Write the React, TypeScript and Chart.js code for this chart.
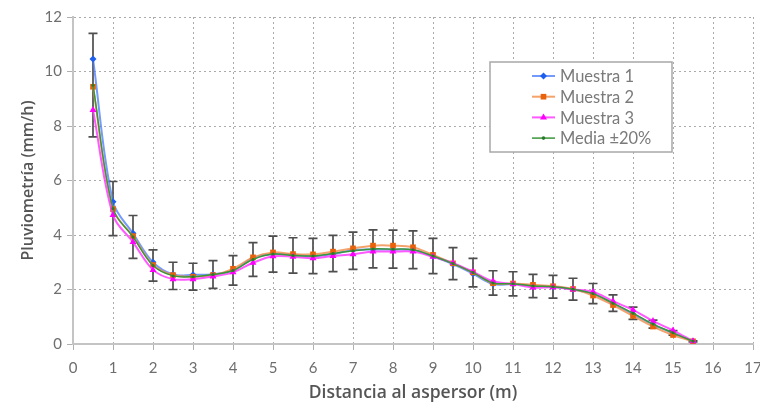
import React, { useEffect, useRef } from 'react';
import { Chart, registerables } from 'chart.js';

Chart.register(...registerables);

// ---------------- Data ----------------
const distances = [0.5, 1, 1.5, 2, 2.5, 3, 3.5, 4, 4.5, 5, 5.5, 6, 6.5, 7, 7.5, 8, 8.5, 9, 9.5, 10, 10.5, 11, 11.5, 12, 12.5, 13, 13.5, 14, 14.5, 15, 15.5];

const muestra1 = [10.46, 5.22, 4.06, 3.0, 2.55, 2.54, 2.56, 2.7, 3.15, 3.3, 3.28, 3.22, 3.3, 3.45, 3.47, 3.46, 3.45, 3.22, 2.93, 2.58, 2.2, 2.2, 2.13, 2.1, 2.0, 1.84, 1.48, 1.1, 0.72, 0.4, 0.1];
const muestra2 = [9.44, 4.95, 3.96, 2.9, 2.53, 2.47, 2.53, 2.76, 3.18, 3.36, 3.3, 3.29, 3.39, 3.51, 3.61, 3.61, 3.55, 3.27, 2.96, 2.63, 2.23, 2.22, 2.17, 2.12, 2.02, 1.78, 1.43, 1.03, 0.64, 0.33, 0.1];
const muestra3 = [8.59, 4.73, 3.74, 2.72, 2.38, 2.38, 2.48, 2.63, 2.98, 3.22, 3.2, 3.15, 3.23, 3.29, 3.39, 3.39, 3.39, 3.2, 2.97, 2.65, 2.3, 2.2, 2.07, 2.08, 2.0, 1.92, 1.57, 1.25, 0.84, 0.5, 0.1];
const media = [9.5, 4.97, 3.93, 2.88, 2.5, 2.47, 2.55, 2.7, 3.1, 3.3, 3.25, 3.23, 3.32, 3.42, 3.49, 3.48, 3.46, 3.23, 2.95, 2.62, 2.24, 2.21, 2.13, 2.1, 2.01, 1.85, 1.5, 1.13, 0.73, 0.41, 0.1];

// Error band of the mean, as stated in the legend (±20 %)
const errorFraction = 0.2;

const seriesLabels = ['Muestra 1', 'Muestra 2', 'Muestra 3', 'Media ±20%'];
const xTitle = 'Distancia al aspersor (m)';
const yTitle = 'Pluviometría (mm/h)';
const xMin = 0;
const xMax = 17;
const yMin = 0;
const yMax = 12;

// ---------------- Styles ----------------
const FONT = 'Lato, "Open Sans", sans-serif';
const TITLE_FONT = '"Open Sans", Lato, sans-serif';
const styles = [
  { line: 'rgba(70,120,250,0.75)', point: '#1f5ff0', shape: 'rectRot', radius: 3.5, width: 2 },
  { line: 'rgba(240,140,70,0.8)', point: '#e8620c', shape: 'rect', radius: 4, width: 2 },
  { line: 'rgba(255,60,255,0.85)', point: '#ff00ff', shape: 'triangle', radius: 4, width: 2 },
  { line: '#3a963a', point: '#2a7a2a', shape: 'circle', radius: 1.5, width: 1.5 },
];
const seriesValues = [muestra1, muestra2, muestra3, media];

function drawMarker(ctx: CanvasRenderingContext2D, shape: string, x: number, y: number, r: number, color: string) {
  ctx.fillStyle = color;
  ctx.beginPath();
  if (shape === 'rectRot') {
    ctx.moveTo(x, y - r);
    ctx.lineTo(x + r, y);
    ctx.lineTo(x, y + r);
    ctx.lineTo(x - r, y);
    ctx.closePath();
  } else if (shape === 'rect') {
    const s = r * Math.SQRT1_2;
    ctx.rect(x - s, y - s, 2 * s, 2 * s);
  } else if (shape === 'triangle') {
    ctx.moveTo(x, y - r);
    ctx.lineTo(x + r * 0.87, y + r * 0.5);
    ctx.lineTo(x - r * 0.87, y + r * 0.5);
    ctx.closePath();
  } else {
    ctx.arc(x, y, r, 0, Math.PI * 2);
  }
  ctx.fill();
}

const errorBarPlugin = {
  id: 'errorBars',
  beforeDatasetsDraw(chart: any) {
    const { ctx, scales } = chart;
    const xs = scales.x;
    const ys = scales.y;
    ctx.save();
    ctx.strokeStyle = '#4e4e4e';
    ctx.lineWidth = 1.7;
    const cap = 4.5;
    distances.forEach((d, i) => {
      const m = media[i];
      const px = xs.getPixelForValue(d);
      const top = ys.getPixelForValue(m * (1 + errorFraction));
      const bot = ys.getPixelForValue(m * (1 - errorFraction));
      ctx.beginPath();
      ctx.moveTo(px, top);
      ctx.lineTo(px, bot);
      ctx.moveTo(px - cap, top);
      ctx.lineTo(px + cap, top);
      ctx.moveTo(px - cap, bot);
      ctx.lineTo(px + cap, bot);
      ctx.stroke();
    });
    ctx.restore();
  },
};

const legendPlugin = {
  id: 'boxLegend',
  afterDraw(chart: any) {
    const { ctx, chartArea } = chart;
    const left = chartArea.left + 417;
    const top = chartArea.top + 45;
    const w = 182;
    const h = 90;
    ctx.save();
    ctx.fillStyle = '#ffffff';
    ctx.fillRect(left, top, w, h);
    ctx.strokeStyle = '#a8a8a8';
    ctx.lineWidth = 1.5;
    ctx.strokeRect(left, top, w, h);
    ctx.font = '16.5px ' + FONT;
    ctx.textBaseline = 'middle';
    ctx.textAlign = 'left';
    seriesLabels.forEach((label, i) => {
      const st = styles[i];
      const cy = top + 14 + i * 20.7;
      ctx.strokeStyle = st.line;
      ctx.lineWidth = st.width;
      ctx.beginPath();
      ctx.moveTo(left + 42, cy);
      ctx.lineTo(left + 65, cy);
      ctx.stroke();
      drawMarker(ctx, st.shape, left + 53.5, cy, st.shape === 'circle' ? 1.8 : st.radius, st.point);
      ctx.fillStyle = '#7a7a7a';
      ctx.fillText(label, left + 70, cy + 1);
    });
    ctx.restore();
  },
};

export default function App() {
  const canvasRef = useRef<HTMLCanvasElement | null>(null);

  useEffect(() => {
    document.body.style.margin = '0';
    const canvas = canvasRef.current;
    if (!canvas) return;

    const datasets = seriesValues.map((vals, i) => {
      const st = styles[i];
      return {
        label: seriesLabels[i],
        data: distances.map((d, j) => ({ x: d, y: vals[j] })),
        borderColor: st.line,
        backgroundColor: st.point,
        borderWidth: st.width,
        pointStyle: st.shape,
        pointRadius: st.radius,
        pointBackgroundColor: st.point,
        pointBorderColor: st.point,
        pointBorderWidth: 0,
        tension: 0.35,
        fill: false,
        order: 3 - i,
      };
    });

    const chart = new Chart(canvas, {
      type: 'line',
      data: { datasets },
      options: {
        responsive: false,
        animation: false,
        maintainAspectRatio: false,
        layout: { padding: { top: 17, right: 7, bottom: 0, left: 0 } },
        plugins: {
          legend: { display: false },
          tooltip: { enabled: false },
        },
        scales: {
          x: {
            type: 'linear',
            min: xMin,
            max: xMax,
            afterFit: (scale: any) => {
              scale.height = 58;
              scale.paddingRight = 0;
              scale.paddingLeft = 0;
            },
            ticks: {
              stepSize: 1,
              color: '#6e6e6e',
              font: { family: FONT, size: 15 },
              padding: 9,
              maxRotation: 0,
            },
            grid: {
              color: '#ababab',
              lineWidth: 1,
              tickLength: 6,
              tickColor: '#b0b0b0',
            },
            border: { color: '#c4c4c4', width: 2, dash: [2, 3] },
            title: {
              display: true,
              text: xTitle,
              color: '#555555',
              font: { family: TITLE_FONT, size: 17.5, weight: '600', lineHeight: 1.0 },
              padding: { top: 0, bottom: 0 },
            },
          },
          y: {
            type: 'linear',
            min: yMin,
            max: yMax,
            afterFit: (scale: any) => {
              scale.width = 73;
            },
            ticks: {
              stepSize: 2,
              color: '#6e6e6e',
              font: { family: FONT, size: 15 },
              padding: 5,
            },
            grid: {
              color: '#ababab',
              lineWidth: 1,
              tickLength: 6,
              tickColor: '#b0b0b0',
            },
            border: { color: '#c4c4c4', width: 2, dash: [2, 3] },
            title: {
              display: true,
              text: yTitle,
              color: '#555555',
              font: { family: TITLE_FONT, size: 16, weight: '600' },
              padding: { top: 19, bottom: 0 },
            },
          },
        },
      } as any,
      plugins: [errorBarPlugin, legendPlugin],
    });

    return () => {
      chart.destroy();
    };
  }, []);

  return (
    <div style={{ width: 760, height: 402, background: '#ffffff' }}>
      <canvas ref={canvasRef} width={760} height={402} style={{ display: 'block' }} />
    </div>
  );
}
